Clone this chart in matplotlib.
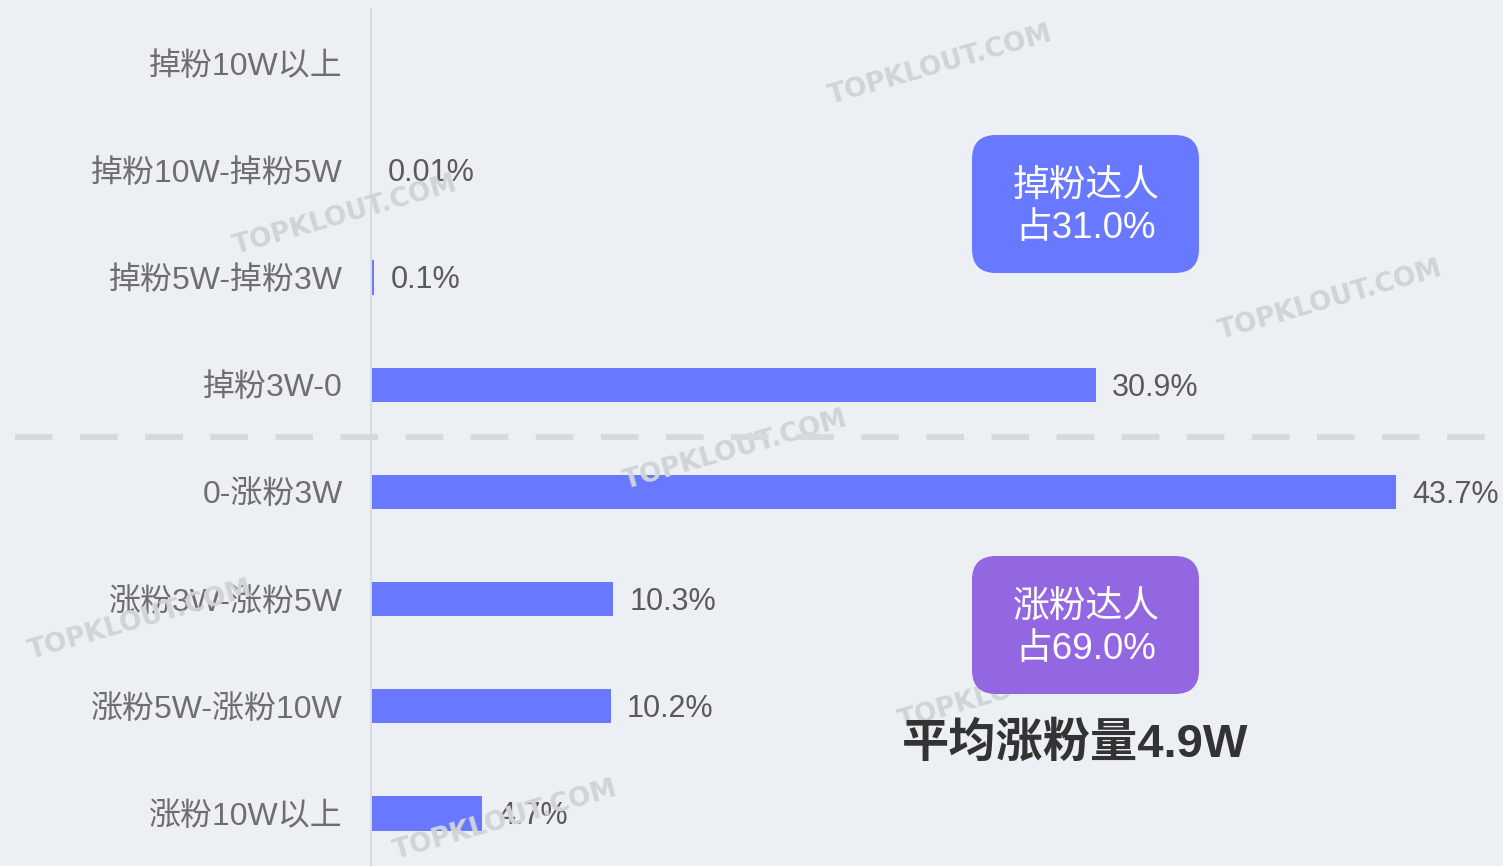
import matplotlib
matplotlib.use('Agg')
import matplotlib.pyplot as plt
from matplotlib.patches import FancyBboxPatch
from matplotlib.lines import Line2D

plt.rcParams['font.family'] = ['Liberation Sans', 'Noto Sans CJK SC', 'DejaVu Sans']

categories = ['掉粉10W以上', '掉粉10W-掉粉5W', '掉粉5W-掉粉3W', '掉粉3W-0',
              '0-涨粉3W', '涨粉3W-涨粉5W', '涨粉5W-涨粉10W', '涨粉10W以上']
values = [0, 0.01, 0.1, 30.9, 43.7, 10.3, 10.2, 4.7]
value_labels = ['', '0.01%', '0.1%', '30.9%', '43.7%', '10.3%', '10.2%', '4.7%']
box_texts = ['掉粉达人\n占31.0%', '涨粉达人\n占69.0%']
summary_text = '平均涨粉量4.9W'

W, H = 1503, 866
BG = '#ECEFF3'
BAR = '#6979FF'

fig = plt.figure(figsize=(W / 100, H / 100), dpi=100)
fig.patch.set_facecolor(BG)

# watermarks (behind everything)
for (wx, wy) in [(940, 65), (345, 215), (1330, 300), (735, 450), (140, 620), (505, 820), (1010, 690)]:
    fig.text(wx / W, 1 - wy / H, 'TOPKLOUT.COM', rotation=16, ha='center', va='center',
             fontsize=19, fontweight='bold', color='#d0d3d8', family='DejaVu Sans', zorder=0)

ax = fig.add_axes([372 / W, 0, 1 - 372 / W, 1])
ax.set_facecolor('none')
ax.axvline(-0.04, ymin=0, ymax=1 - 9 / H, color='#dadcdf', lw=1.5, zorder=2, clip_on=False)
ax.barh(range(len(categories)), values, height=0.32, color=BAR, zorder=3)
ax.set_xlim(0, (W - 372) / 23.43)
ax.set_ylim(7.49, -0.59)
ax.set_yticks(range(len(categories)))
ax.set_yticklabels(categories, fontsize=23, color='#6e6e6e')
ax.tick_params(axis='y', length=0, pad=21)
ax.set_xticks([])
for s in ['top', 'right', 'bottom', 'left']:
    ax.spines[s].set_visible(False)

for i, (v, lab) in enumerate(zip(values, value_labels)):
    if lab:
        ax.annotate(lab, xy=(v, i), xytext=(11.5, -2), textcoords='offset points',
                    ha='left', va='center', fontsize=22, color='#5a5a5a', zorder=4)

# dashed separator
fig.add_artist(Line2D([15 / W, 1490 / W], [1 - 437 / H, 1 - 437 / H], color='#d8d9db',
                      lw=4.3, linestyle=(0, (6.3, 4.6)), zorder=1))

# boxes
for (y0, y1, col, txt) in [(135, 273, '#6979FF', box_texts[0]), (556, 694, '#9467E2', box_texts[1])]:
    bx = FancyBboxPatch((972 / W, 1 - y1 / H), (1199 - 972) / W, (y1 - y0) / H,
                        boxstyle='round,pad=0,rounding_size=0.016', transform=fig.transFigure,
                        facecolor=col, edgecolor='none', zorder=5, mutation_aspect=W / H)
    fig.add_artist(bx)
    fig.text(1086 / W, 1 - ((y0 + y1) / 2 + 4) / H, txt, ha='center', va='center', fontsize=26.5,
             color='white', linespacing=1.25, zorder=6)

fig.text(1075 / W, 1 - 744 / H, summary_text, ha='center', va='center', fontsize=34,
         fontweight='bold', color='#333333', zorder=6)

fig.savefig('out.png', dpi=100, facecolor=BG)
